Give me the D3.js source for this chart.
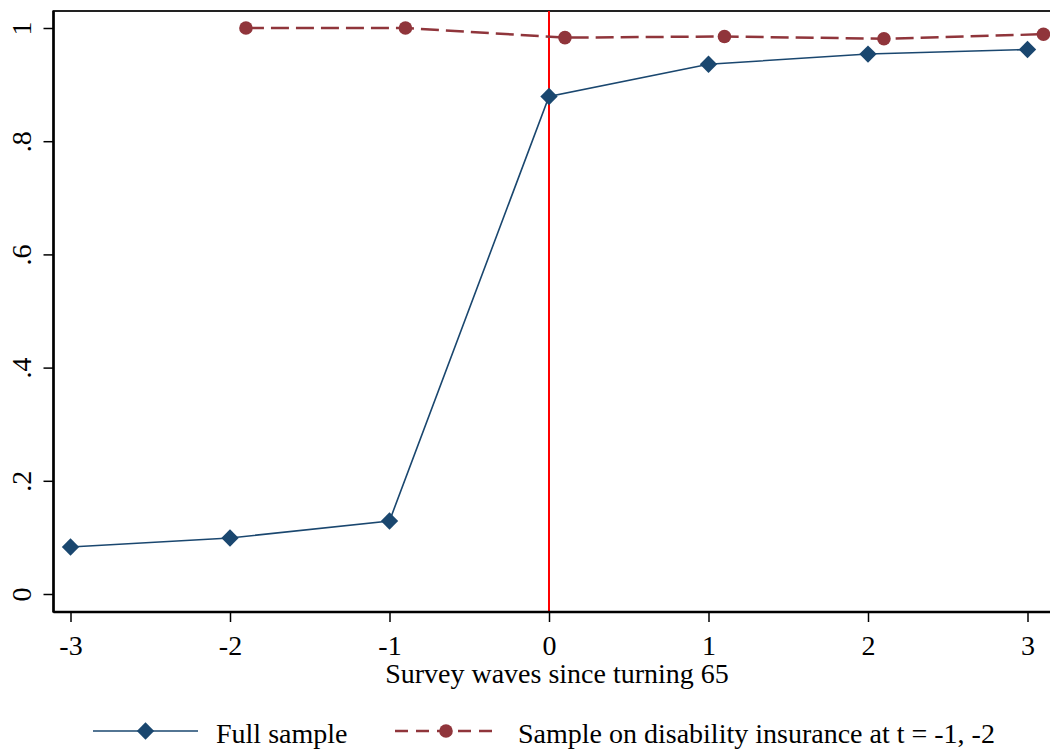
<!DOCTYPE html>
<html>
<head>
<meta charset="utf-8">
<script src="https://d3js.org/d3.v7.min.js"></script>
<style>
  body { margin: 0; background: #fff; }
  text { font-family: "Liberation Serif", "Times New Roman", serif; }
</style>
</head>
<body>
<script>
// data
var waves = [-3, -2, -1, 0, 1, 2, 3];
var fullSample = [0.083, 0.099, 0.129, 0.879, 0.936, 0.954, 0.962];
var diWaves = [-1.9, -0.9, 0.1, 1.1, 2.1, 3.1];
var diSample = [1.0, 1.0, 0.983, 0.985, 0.981, 0.989];
var yTicks = [0, 0.2, 0.4, 0.6, 0.8, 1];
var yTickLabels = ["0", ".2", ".4", ".6", ".8", "1"];
var xLabel = "Survey waves since turning 65";
var legendLabels = ["Full sample", "Sample on disability insurance at t = -1, -2"];

var W = 1050, H = 749;
var blue = "#1a476f", maroon = "#90353b";

var svg = d3.select("body").append("svg").attr("width", W).attr("height", H);

var x = d3.scaleLinear().domain([-3, 3]).range([70.5, 1027.5]);
var y = d3.scaleLinear().domain([0, 1]).range([594, 28]);

var plotLeft = 53.5, plotTop = 11, plotBottom = 612;

// plot region outline
svg.append("rect")
  .attr("x", plotLeft).attr("y", plotTop)
  .attr("width", W + 20 - plotLeft).attr("height", plotBottom - plotTop)
  .attr("fill", "none").attr("stroke", "#222").attr("stroke-width", 2);

// vertical reference line at 0
svg.append("line")
  .attr("x1", x(0)).attr("x2", x(0))
  .attr("y1", plotTop).attr("y2", plotBottom)
  .attr("stroke", "#ff0000").attr("stroke-width", 2);

// axes
var xAxis = svg.append("g")
  .attr("transform", "translate(0," + plotBottom + ")")
  .call(d3.axisBottom(x).tickValues(waves).tickSize(10)
    .tickFormat(function (d) { return String(d); }));
xAxis.select(".domain").remove();
xAxis.selectAll(".tick line").attr("stroke", "#000").attr("stroke-width", 1.5);
xAxis.selectAll("text").attr("font-size", 28).attr("fill", "#000")
  .attr("font-family", "Liberation Serif")
  .attr("dy", 0).attr("y", 43);

var yAxis = svg.append("g")
  .attr("transform", "translate(" + plotLeft + ",0)")
  .call(d3.axisLeft(y).tickValues(yTicks).tickSize(10)
    .tickFormat(function (d, i) { return yTickLabels[i]; }));
yAxis.select(".domain").remove();
yAxis.selectAll(".tick line").attr("stroke", "#000").attr("stroke-width", 1.5);
yAxis.selectAll("text")
  .attr("font-size", 28).attr("fill", "#000").attr("font-family", "Liberation Serif")
  .attr("text-anchor", "middle").attr("dy", 0)
  .attr("x", 0).attr("y", 0)
  .attr("transform", "translate(-23,0) rotate(-90)");

// axis lines (left and bottom) drawn thicker
svg.append("line").attr("x1", plotLeft).attr("x2", plotLeft).attr("y1", plotTop).attr("y2", plotBottom)
  .attr("stroke", "#000").attr("stroke-width", 2.5);
svg.append("line").attr("x1", plotLeft).attr("x2", W + 10).attr("y1", plotBottom).attr("y2", plotBottom)
  .attr("stroke", "#000").attr("stroke-width", 2.5);

svg.append("text")
  .attr("x", 557).attr("y", 683)
  .attr("text-anchor", "middle").attr("font-size", 28)
  .text(xLabel);

// series
var line = d3.line().x(function (d) { return x(d[0]); }).y(function (d) { return y(d[1]); });
var fullPts = waves.map(function (w, i) { return [w, fullSample[i]]; });
var diPts = diWaves.map(function (w, i) { return [w, diSample[i]]; });

svg.append("path").datum(diPts).attr("d", line)
  .attr("fill", "none").attr("stroke", maroon).attr("stroke-width", 2.5)
  .attr("stroke-dasharray", "18,7");
svg.append("path").datum(fullPts).attr("d", line)
  .attr("fill", "none").attr("stroke", blue).attr("stroke-width", 1.6);

var diamond = d3.symbol().type(d3.symbolSquare).size(150);
svg.selectAll(".dia").data(fullPts).enter().append("path")
  .attr("d", diamond)
  .attr("transform", function (d) { return "translate(" + x(d[0]) + "," + y(d[1]) + ") rotate(45)"; })
  .attr("fill", blue);

svg.selectAll(".circ").data(diPts).enter().append("circle")
  .attr("cx", function (d) { return x(d[0]); })
  .attr("cy", function (d) { return y(d[1]); })
  .attr("r", 6.8).attr("fill", maroon);

// legend
var ly = 731;
var lg = svg.append("g");
lg.append("line").attr("x1", 93).attr("x2", 198).attr("y1", ly).attr("y2", ly)
  .attr("stroke", blue).attr("stroke-width", 1.6);
lg.append("path").attr("d", diamond)
  .attr("transform", "translate(145.5," + ly + ") rotate(45)").attr("fill", blue);
lg.append("text").attr("x", 216).attr("y", ly + 12).attr("font-size", 28).text(legendLabels[0]);

lg.append("line").attr("x1", 395).attr("x2", 500).attr("y1", ly).attr("y2", ly)
  .attr("stroke", maroon).attr("stroke-width", 2.5).attr("stroke-dasharray", "13,8");
lg.append("circle").attr("cx", 446).attr("cy", ly).attr("r", 6.8).attr("fill", maroon);
lg.append("text").attr("x", 518).attr("y", ly + 12).attr("font-size", 28).text(legendLabels[1]);
</script>
</body>
</html>
